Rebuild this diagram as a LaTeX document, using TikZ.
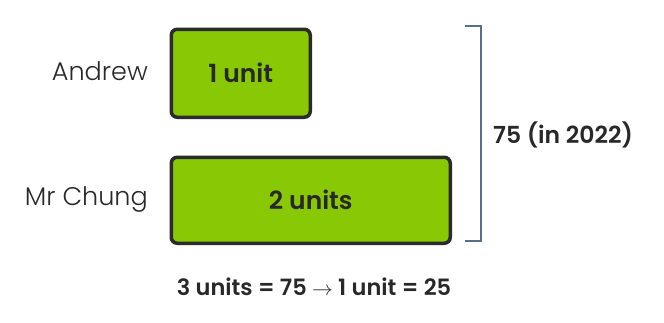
\documentclass[tikz,border=0pt]{standalone}
\usepackage{fontspec}
\setmainfont{Poppins}[BoldFont={Poppins SemiBold}]
\newfontfamily\namefont{Poppins Light}
\definecolor{unitgreen}{RGB}{137,200,4}
\definecolor{boxline}{RGB}{43,43,43}
\definecolor{bracketblue}{RGB}{88,110,142}
\definecolor{textdark}{RGB}{40,40,40}
\usetikzlibrary{positioning}

\tikzset{
	unitbox/.style={draw=boxline, line width=3.5pt, fill=unitgreen, rounded corners=6pt, anchor=north west, inner sep=0pt, font=\fontsize{25}{30}\selectfont\bfseries, text=textdark},
	namelabel/.style={anchor=east, inner sep=0pt, font=\fontsize{25.5}{30}\selectfont\namefont, text=textdark},
}

\begin{document}
\begin{tikzpicture}[x=1pt,y=1pt,yscale=-1,xscale=1]
	\useasboundingbox (0,0) rectangle (664,322);
	
	% bars
	\node (andrewbox) [unitbox, minimum width=139, minimum height=88] at (169.5,27.5) {1 unit};
	\node (chungbox) [unitbox, minimum width=279, minimum height=86] at (169.5,155.5) {2 units};
	
	% names
	\node (andrew) [namelabel] at (148,71) {Andrew};
	\node (chung) [namelabel] at (148,199) {Mr Chung};
	
	% bracket for the total
	\coordinate (btop) at (465,26);
	\coordinate (bbot) at (465,241);
	\draw [color=bracketblue, line width=2pt] (btop) -- ++(16,0) |- (bbot);
	\node (total) [anchor=west, inner sep=0pt, font=\fontsize{23.5}{28}\selectfont\bfseries, text=textdark] at (493,135) {75 (in 2022)};
	
	% working
	\node (working) [inner sep=0pt, font=\fontsize{22.5}{27}\selectfont\bfseries, text=textdark] at (314,287) {3 units = 75 $\rightarrow$ 1 unit = 25};
	
\end{tikzpicture}
\end{document}
